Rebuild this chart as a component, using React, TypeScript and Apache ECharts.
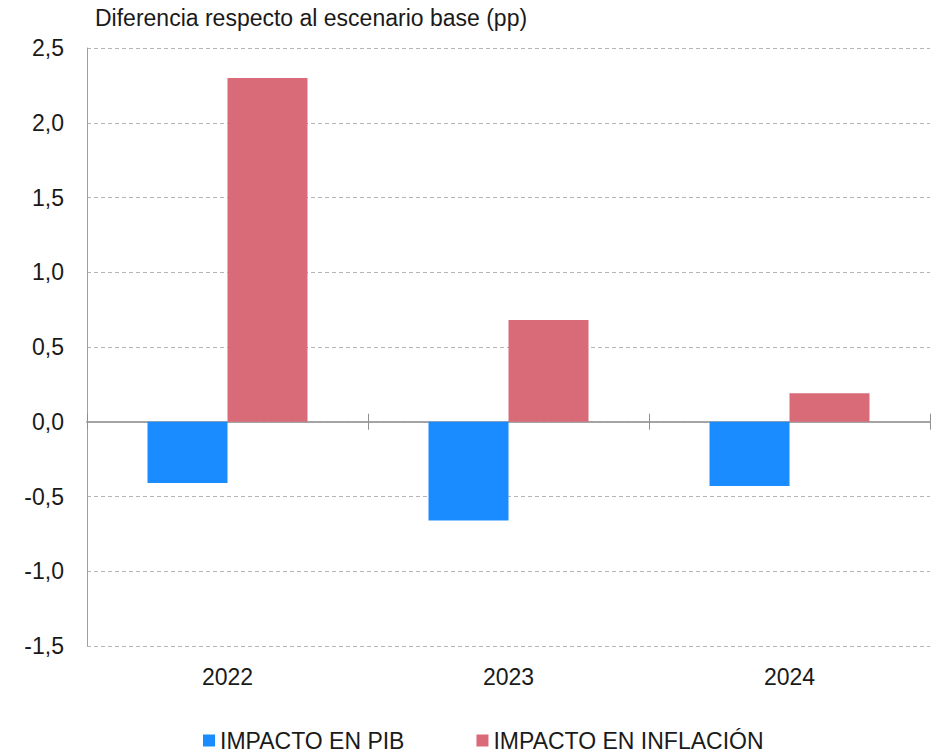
import React, { useEffect, useRef } from "react";
import * as echarts from "echarts";

const categories = ["2022", "2023", "2024"];
const pibValues = [-0.41, -0.66, -0.43];
const inflacionValues = [2.3, 0.68, 0.19];
const seriesNames = ["IMPACTO EN PIB", "IMPACTO EN INFLACIÓN"];
const titleText = "Diferencia respecto al escenario base (pp)";

const FONT = "'Liberation Sans', Arial, Helvetica, sans-serif";

export default function App() {
  const ref = useRef<HTMLDivElement>(null);
  useEffect(() => {
    if (!ref.current) return;
    const chart = echarts.init(ref.current, null, { renderer: "svg" });
    chart.setOption({
      animation: false,
      textStyle: { fontFamily: FONT },
      title: {
        text: titleText,
        left: 90,
        top: 1,
        textStyle: { fontSize: 23, fontWeight: "normal", color: "#1a1a1a", fontFamily: FONT },
      },
      grid: { left: 87, right: 8, top: 48, bottom: 109, containLabel: false },
      legend: {
        left: 203,
        top: 729,
        padding: 0,
        itemWidth: 12,
        itemHeight: 12,
        itemGap: 72,
        icon: "rect",
        textStyle: { fontSize: 23, color: "#1a1a1a", fontFamily: FONT, lineHeight: 23 },
        data: seriesNames,
      },
      xAxis: [
        {
          type: "category",
          data: categories,
          position: "bottom",
          axisLine: { onZero: true, onZeroAxisIndex: 0, lineStyle: { color: "#a0a0a0", width: 1.5 } },
          axisTick: { show: true, length: 8, lineStyle: { color: "#909090" } },
          axisLabel: { show: false },
        },
        {
          type: "category",
          data: categories,
          position: "top",
          axisLine: { onZero: true, onZeroAxisIndex: 0, lineStyle: { color: "#a0a0a0", width: 1.5 } },
          axisTick: { show: true, length: 8, lineStyle: { color: "#909090" } },
          axisLabel: { show: false },
        },
        {
          type: "category",
          data: categories,
          position: "bottom",
          axisLine: { show: false, onZero: false },
          axisTick: { show: false },
          axisLabel: { show: true, fontSize: 23, color: "#1a1a1a", margin: 19, fontFamily: FONT },
        },
      ],
      yAxis: {
        type: "value",
        min: -1.5,
        max: 2.5,
        interval: 0.5,
        axisLine: { show: true, lineStyle: { color: "#a0a0a0", width: 1 } },
        axisTick: { show: false },
        axisLabel: {
          fontSize: 23,
          color: "#1a1a1a",
          margin: 23,
          fontFamily: FONT,
          formatter: (v: number) => v.toFixed(1).replace(".", ","),
        },
        splitLine: { show: true, lineStyle: { color: "#b5b5b5", type: [4, 3], width: 1 } },
      },
      series: [
        {
          name: seriesNames[0],
          type: "bar",
          xAxisIndex: 0,
          data: pibValues,
          barWidth: 80,
          barGap: "0%",
          itemStyle: { color: "#1b8cff" },
        },
        {
          name: seriesNames[1],
          type: "bar",
          xAxisIndex: 0,
          data: inflacionValues,
          barWidth: 80,
          barGap: "0%",
          itemStyle: { color: "#d96b78" },
        },
      ],
    });
    return () => chart.dispose();
  }, []);
  return <div ref={ref} style={{ width: 938, height: 755, position: "absolute", left: 0, top: 0 }} />;
}
